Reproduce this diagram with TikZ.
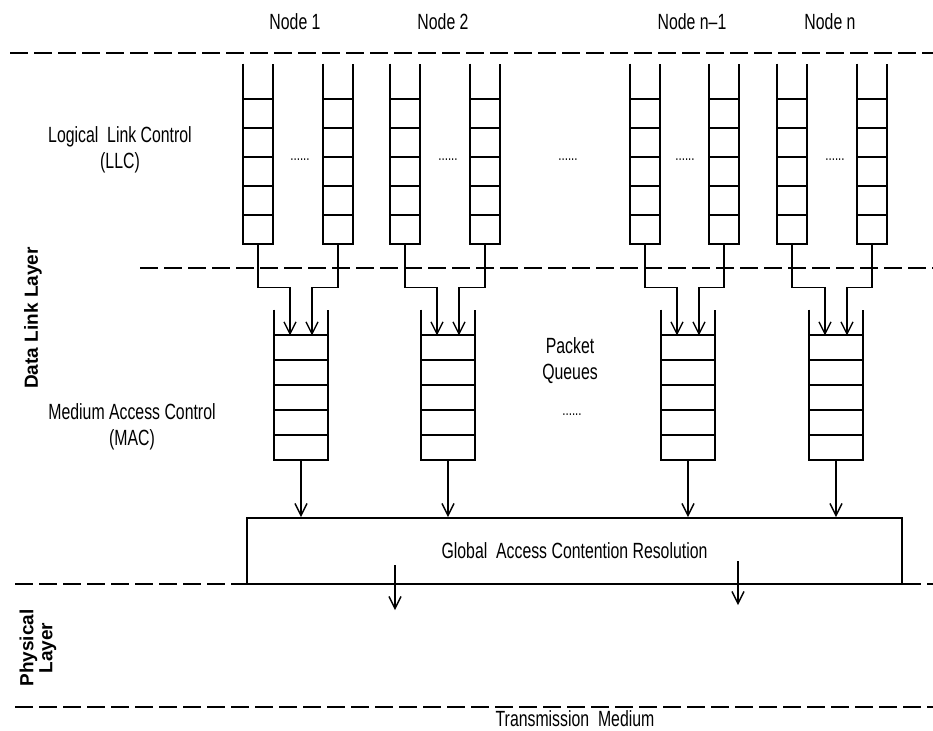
\documentclass[tikz,border=0pt]{standalone}
\usepackage{fontspec}
\setmainfont{Liberation Sans}
\newfontfamily\narrowfont[FakeStretch=0.72,Ligatures=TeX]{Liberation Sans}
\usetikzlibrary{positioning,arrows.meta,calc}

\begin{document}
\begin{tikzpicture}[
  x=0.5pt, y=-0.5pt,
  lbl/.style={font=\fontsize{11}{13}\narrowfont, align=center},
  side/.style={font=\fontsize{9.5}{9.5}\selectfont\bfseries, rotate=90, align=center},
  dots/.style={font=\footnotesize\narrowfont, inner sep=0pt},
  llcq/.style={minimum width=14.5pt, minimum height=90pt, inner sep=0pt},
  macq/.style={minimum width=26.5pt, minimum height=75pt, inner sep=0pt},
  qline/.style={line width=1pt},
  layer/.style={dash pattern=on 9pt off 3pt, line width=0.9pt},
  arr/.style={-{Straight Barb[length=6pt,width=6pt]}, line width=0.7pt}
]
\useasboundingbox (0,0) rectangle (933,730);

% node labels
\node[lbl] (n1) at (295,22) {Node 1};
\node[lbl] (n2) at (443,22) {Node 2};
\node[lbl] (nn1) at (692,22) {Node n--1};
\node[lbl] (nn) at (830,22) {Node n};

% LLC queues
\node[llcq] (q1a) at (258,154) {};
\node[llcq] (q1b) at (338,154) {};
\node[llcq] (q2a) at (405,154) {};
\node[llcq] (q2b) at (485,154) {};
\node[llcq] (qn1a) at (645,154) {};
\node[llcq] (qn1b) at (724,154) {};
\node[llcq] (qna) at (792,154) {};
\node[llcq] (qnb) at (872,154) {};
\foreach \q in {q1a,q1b,q2a,q2b,qn1a,qn1b,qna,qnb} {
  \draw[qline] (\q.north west) -- (\q.south west) -- (\q.south east) -- (\q.north east);
  \foreach \k in {1,...,5}
    \draw[qline] ($(\q.south west)+(0,-\k*29)$) -- ($(\q.south east)+(0,-\k*29)$);
}

% MAC queues
\node[macq] (m1) at (301,385) {};
\node[macq] (m2) at (448,385) {};
\node[macq] (mn1) at (688,385) {};
\node[macq] (mn) at (836,385) {};
\foreach \q in {m1,m2,mn1,mn} {
  \draw[qline] (\q.north west) -- (\q.south west) -- (\q.south east) -- (\q.north east);
  \foreach \k in {1,...,5}
    \draw[qline] ($(\q.south west)+(0,-\k*25)$) -- ($(\q.south east)+(0,-\k*25)$);
}

\node[dots] (d1) at (300,160) {......};
\node[dots] (d2) at (448,160) {......};
\node[dots] (d3) at (568,160) {......};
\node[dots] (d4) at (685,160) {......};
\node[dots] (d5) at (835,160) {......};
\node[dots] (d6) at (572,415) {......};

\node[lbl] (pq) at (570,361) {Packet\\Queues};
\node[lbl] (llc) at (120,150) {Logical\ \ Link Control\\(LLC)};
\node[lbl] (mac) at (132,427) {Medium Access Control\\(MAC)};
\node[side] (dll) at (33,318) {Data Link Layer};
\node[side] (phy) at (38,648) {Physical\\Layer};
\node[lbl] (tm) at (575,719) {Transmission\ \ Medium};

% LLC -> MAC
\foreach \a/\b/\m in {q1a/q1b/m1,q2a/q2b/m2,qn1a/qn1b/mn1,qna/qnb/mn} {
  \draw[arr] (\a.south) -- ++(0,43) -| ($(\m.south)+(-11,-125)$);
  \draw[arr] (\b.south) -- ++(0,43) -| ($(\m.south)+(11,-125)$);
}

\node[draw, line width=1pt, minimum width=327.5pt, minimum height=33pt, lbl] (gacr)
  at (574.5,551) {Global\ \ Access Contention Resolution};

\foreach \m in {m1,m2,mn1,mn}
  \draw[arr] (\m.south) -- (\m.south |- gacr.north);

\coordinate (tx1) at (395,610);
\coordinate (tx2) at (738,605);
\draw[arr] ($(gacr.south -| tx1)+(0,-20)$) -- (tx1);
\draw[arr] ($(gacr.south -| tx2)+(0,-24)$) -- (tx2);

% layer boundaries
\draw[layer] (10,53) -- (933,53);
\draw[layer] (140,268) -- (933,268);
\draw[layer] (15,584) -- (933,584);
\draw[layer] (15,707) -- (933,707);

\end{tikzpicture}
\end{document}
